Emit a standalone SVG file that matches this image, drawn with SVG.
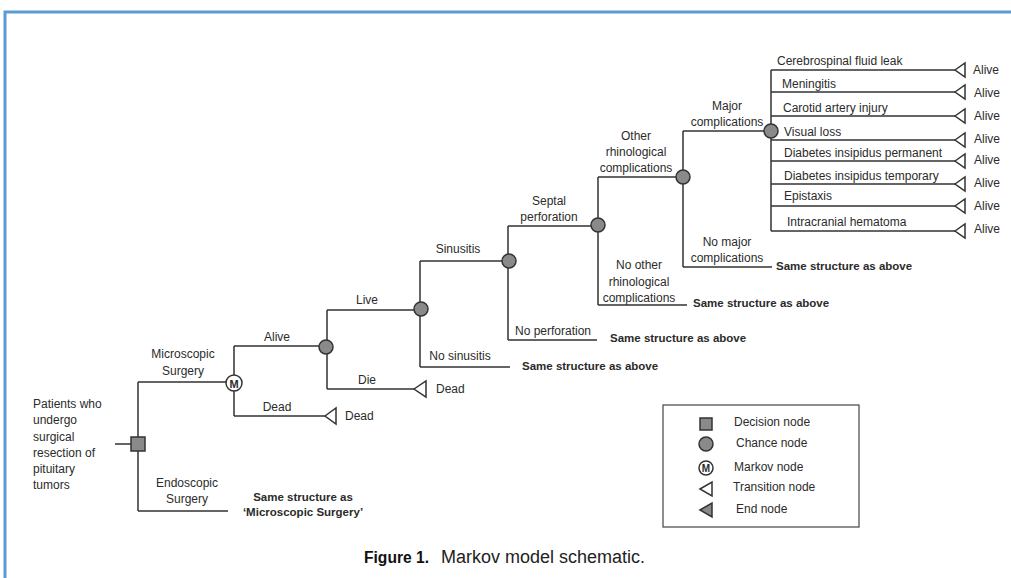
<svg xmlns="http://www.w3.org/2000/svg" width="1011" height="578" viewBox="0 0 1011 578">
<style>
text{font-family:"Liberation Sans",Arial,sans-serif;font-size:12px;fill:#2b2b2b}
.c{text-anchor:middle}
.b{font-weight:bold;font-size:11.5px}
.ln{stroke:#333;stroke-width:1.5;fill:none}
.ch{fill:#8a8a8a;stroke:#333;stroke-width:1.5}
.tr{fill:#fff;stroke:#333;stroke-width:1.5}
.en{fill:#8a8a8a;stroke:#333;stroke-width:1.5}
.frame{stroke:#5b9bd5;stroke-width:3;fill:none}
</style>
<rect width="1011" height="578" fill="#fff"/>
<path class="frame" d="M5,578 V12 H1011"/>

<g id="connectors">
<path class="ln" d="M115,444 H131 M138,382 V511 M138,382 H227 M138,511 H228"/>
<path class="ln" d="M234,346 V416 M234,346 H319 M234,416 H325"/>
<path class="ln" d="M327,310 V389 M327,310 H414 M327,389 H414"/>
<path class="ln" d="M420,261 V367 M420,261 H502 M420,367 H510"/>
<path class="ln" d="M508,226 V340 M508,226 H591 M508,340 H597"/>
<path class="ln" d="M598,177 V305 M598,177 H676 M598,305 H687"/>
<path class="ln" d="M683,131 V267 M683,131 H764 M683,267 H772"/>
<path class="ln" d="M771,70 V231 M771,70 H955 M771,92 H955 M771,116 H955 M771,140 H955 M771,161 H955 M771,184 H955 M771,206 H955 M771,231 H955"/>
</g>

<g id="root">
<text x="33" y="408">Patients who</text>
<text x="33" y="424">undergo</text>
<text x="33" y="441">surgical</text>
<text x="33" y="457">resection of</text>
<text x="33" y="473">pituitary</text>
<text x="33" y="489">tumors</text>
</g>
<g id="decision">
<rect x="131" y="437" width="14" height="14" class="ch"/>
</g>
<g id="microscopic-label">
<text class="c" x="183" y="358">Microscopic</text>
<text class="c" x="183" y="375">Surgery</text>
</g>
<g id="endoscopic">
<text class="c" x="187" y="487">Endoscopic</text>
<text class="c" x="187" y="503">Surgery</text>
<text class="c b" x="303" y="501">Same structure as</text>
<text class="c b" x="303" y="516">‘Microscopic Surgery’</text>
</g>
<g id="markov">
<circle cx="234" cy="383" r="8" fill="#fff" stroke="#333" stroke-width="1.5"/>
<text class="c" x="234" y="387.5" style="font-weight:bold;font-size:11px">M</text>
</g>
<g id="labels-markov">
<text class="c" x="277" y="341">Alive</text>
<text class="c" x="277" y="411">Dead</text>
</g>
<g id="dead1">
<polygon class="tr" points="325,416 336,408 336,424"/>
<text x="345" y="420">Dead</text>
</g>
<g id="chance1">
<circle class="ch" cx="326" cy="347" r="7"/>
<text class="c" x="367" y="304">Live</text>
<text class="c" x="367" y="384">Die</text>
</g>
<g id="dead2">
<polygon class="tr" points="414,389 426,381 426,397"/>
<text x="436" y="393">Dead</text>
</g>
<g id="chance2">
<circle class="ch" cx="421" cy="309" r="7"/>
<text class="c" x="458" y="253">Sinusitis</text>
<text class="c" x="460" y="360">No sinusitis</text>
<text class="b" x="522" y="370">Same structure as above</text>
</g>
<g id="chance3">
<circle class="ch" cx="509" cy="261" r="7"/>
<text class="c" x="549" y="205">Septal</text>
<text class="c" x="549" y="221">perforation</text>
<text class="c" x="553" y="335">No perforation</text>
<text class="b" x="610" y="342">Same structure as above</text>
</g>
<g id="chance4">
<circle class="ch" cx="598" cy="225" r="7"/>
<text class="c" x="636" y="140">Other</text>
<text class="c" x="636" y="156">rhinological</text>
<text class="c" x="636" y="172">complications</text>
<text class="c" x="639" y="269">No other</text>
<text class="c" x="639" y="286">rhinological</text>
<text class="c" x="639" y="302">complications</text>
<text class="b" x="693" y="307">Same structure as above</text>
</g>
<g id="chance5">
<circle class="ch" cx="683" cy="177" r="7"/>
<text class="c" x="727" y="110">Major</text>
<text class="c" x="727" y="126">complications</text>
<text class="c" x="727" y="246">No major</text>
<text class="c" x="727" y="262">complications</text>
<text class="b" x="776" y="270">Same structure as above</text>
</g>
<g id="chance6">
<circle class="ch" cx="771" cy="131" r="7"/>
<text x="777" y="65">Cerebrospinal fluid leak</text>
<text x="782" y="88">Meningitis</text>
<text x="783" y="112">Carotid artery injury</text>
<text x="784" y="136">Visual loss</text>
<text x="784" y="157">Diabetes insipidus permanent</text>
<text x="784" y="180">Diabetes insipidus temporary</text>
<text x="784" y="200">Epistaxis</text>
<text x="787" y="226">Intracranial hematoma</text>
</g>
<g id="alive-ends">
<polygon class="tr" points="955,70 965,63 965,77"/>
<polygon class="tr" points="955,92 965,85 965,99"/>
<polygon class="tr" points="955,116 965,109 965,123"/>
<polygon class="tr" points="955,140 965,133 965,147"/>
<polygon class="tr" points="955,161 965,154 965,168"/>
<polygon class="tr" points="955,184 965,177 965,191"/>
<polygon class="tr" points="955,206 965,199 965,213"/>
<polygon class="tr" points="955,231 965,224 965,238"/>
<text x="973" y="74">Alive</text>
<text x="974" y="97">Alive</text>
<text x="974" y="120">Alive</text>
<text x="974" y="143">Alive</text>
<text x="974" y="164">Alive</text>
<text x="974" y="187">Alive</text>
<text x="974" y="210">Alive</text>
<text x="974" y="233">Alive</text>
</g>
<g id="legend">
<rect x="663" y="405" width="196" height="122" fill="none" stroke="#444" stroke-width="1.2"/>
<rect x="700" y="418" width="12" height="12" class="ch"/>
<circle class="ch" cx="706" cy="444" r="7"/>
<circle cx="706" cy="468" r="7" fill="#fff" stroke="#333" stroke-width="1.5"/>
<text class="c" x="706" y="472" style="font-weight:bold;font-size:10px">M</text>
<polygon class="tr" points="700,489 712,482 712,496"/>
<polygon class="en" points="700,510 712,503 712,517"/>
<text x="734" y="426">Decision node</text>
<text x="736" y="447">Chance node</text>
<text x="734" y="471">Markov node</text>
<text x="733" y="491">Transition node</text>
<text x="736" y="513">End node</text>
</g>
<g id="caption">
<text x="364" y="563" style="font-size:16px;font-weight:bold;fill:#111" textLength="65" lengthAdjust="spacingAndGlyphs">Figure 1.</text>
<text x="441" y="563" style="font-size:18px;fill:#222">Markov model schematic.</text>
</g>
</svg>
